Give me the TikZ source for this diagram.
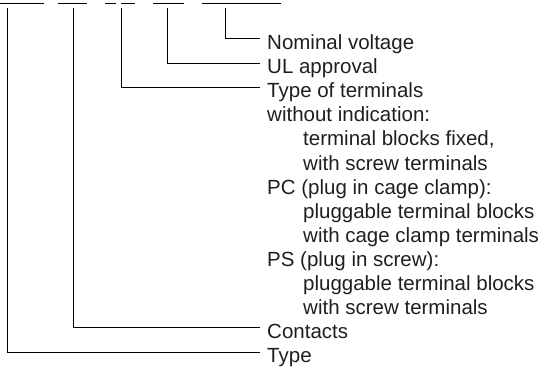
\documentclass[tikz,border=0pt]{standalone}
\usepackage{fontspec}
\setmainfont{Liberation Sans}
\begin{document}
\begin{tikzpicture}[x=1pt, y=-1pt,
	lbl/.style={anchor=base west, inner sep=0pt, text=black!88, font=\fontsize{20.5}{24}\selectfont},
	ln/.style={line width=.8pt}]
	\useasboundingbox (0, 0) rectangle (553, 367) ;
	% underlines of the cut-off designation
	\draw[ln] (0, 3) -- (44, 3) ;
	\draw[ln] (58, 3) -- (87, 3) ;
	\draw[ln] (105, 3) -- (116, 3) ;
	\draw[ln] (121, 3) -- (135, 3) ;
	\draw[ln] (153, 3) -- (184, 3) ;
	\draw[ln] (202, 3) -- (281, 3) ;
	\coordinate (ctype) at (7, 8) ;
	\coordinate (ccont) at (73, 8) ;
	\coordinate (cterm) at (121, 8) ;
	\coordinate (cul) at (167, 8) ;
	\coordinate (cvolt) at (225, 8) ;
		\node (volt)[lbl] at (267, 49.5) {Nominal voltage} ;
		\node (ul)[lbl] at (267, 73.6) {UL approval} ;
		\node (term)[lbl] at (267, 97.7) {Type of terminals} ;
		\node (wo)[lbl] at (267, 121.8) {without indication:} ;
		\node (wo1)[lbl] at (303, 145.9) {terminal blocks fixed,} ;
		\node (wo2)[lbl] at (303, 170) {with screw terminals} ;
		\node (pc)[lbl] at (267, 194.1) {PC (plug in cage clamp):} ;
		\node (pc1)[lbl] at (303, 218.2) {pluggable terminal blocks} ;
		\node (pc2)[lbl] at (303, 242.3) {with cage clamp terminals} ;
		\node (ps)[lbl] at (267, 266.4) {PS (plug in screw):} ;
		\node (ps1)[lbl] at (303, 290.5) {pluggable terminal blocks} ;
		\node (ps2)[lbl] at (303, 314.6) {with screw terminals} ;
		\node (cont)[lbl] at (267, 338.7) {Contacts} ;
		\node (type)[lbl] at (267, 362.8) {Type} ;
	\draw[ln] (cvolt) |- ([xshift=-7pt, yshift=11.5pt]volt.base west) ;
	\draw[ln] (cul) |- ([xshift=-7pt, yshift=10pt]ul.base west) ;
	\draw[ln] (cterm) |- ([xshift=-7pt, yshift=10pt]term.base west) ;
	\draw[ln] (ccont) |- ([xshift=-7pt, yshift=11.5pt]cont.base west) ;
	\draw[ln] (ctype) |- ([xshift=-7pt, yshift=10pt]type.base west) ;
\end{tikzpicture}
\end{document}
